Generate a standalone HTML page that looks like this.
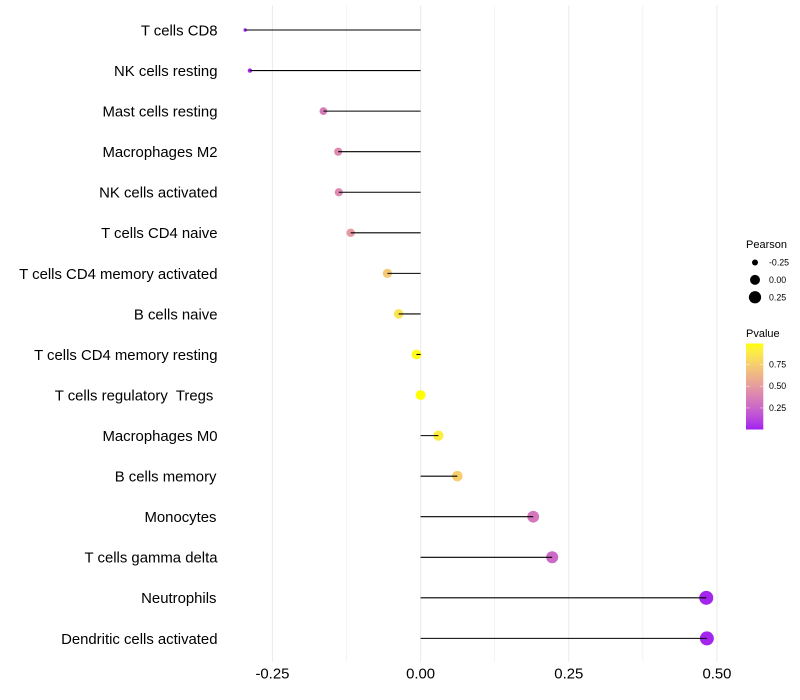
<!DOCTYPE html>
<html>
<head>
<meta charset="utf-8">
<title>Immune cell correlation lollipop chart</title>
<style>
  html, body { margin: 0; padding: 0; background: #fff; }
  svg { display: block; font-family: "Liberation Sans", sans-serif; }
  text { white-space: pre; }
</style>
</head>
<body>
<svg id="chart" width="800" height="700" viewBox="0 0 800 700" xmlns="http://www.w3.org/2000/svg">
  <defs>
    <linearGradient id="pvalue-gradient" x1="0" y1="1" x2="0" y2="0"></linearGradient>
  </defs>
  <rect x="0" y="0" width="800" height="700" fill="#ffffff"></rect>
  <g id="grid"></g>
  <g id="points"></g>
  <g id="stems-top"></g>
  <g id="y-labels"></g>
  <g id="x-labels"></g>
  <g id="size-legend">
    <text x="746" y="248" font-size="11" fill="#000">Pearson</text>
  </g>
  <g id="color-legend">
    <text x="746" y="337" font-size="11" fill="#000">Pvalue</text>
    <rect x="746" y="343.5" width="17.3" height="86" fill="url(#pvalue-gradient)"></rect>
  </g>
</svg>
<script>
const categories = ["T cells CD8", "NK cells resting", "Mast cells resting", "Macrophages M2", "NK cells activated", "T cells CD4 naive", "T cells CD4 memory activated", "B cells naive", "T cells CD4 memory resting", "T cells regulatory  Tregs ", "Macrophages M0", "B cells memory", "Monocytes", "T cells gamma delta", "Neutrophils", "Dendritic cells activated"];
const pearson = [-0.296, -0.288, -0.164, -0.139, -0.138, -0.118, -0.056, -0.037, -0.007, 0.000, 0.030, 0.062, 0.190, 0.222, 0.482, 0.483];
const pvalue = [0.02, 0.03, 0.35, 0.42, 0.42, 0.50, 0.72, 0.85, 0.97, 0.99, 0.90, 0.75, 0.33, 0.27, 0.02, 0.02];
const xMajorTicks = [-0.25, 0, 0.25, 0.5];
const xMajorLabels = ["-0.25", "0.00", "0.25", "0.50"];
const xMinorTicks = [-0.125, 0.125, 0.375];
const sizeLegendValues = [-0.25, 0, 0.25];
const sizeLegendLabels = ["-0.25", "0.00", "0.25"];
const colorLegendValues = [0.25, 0.5, 0.75];
const colorLegendLabels = ["0.25", "0.50", "0.75"];

const NS = "http://www.w3.org/2000/svg";
const xScale = v => 420.6 + v * 592.7;
const yScale = i => 30 + i * 40.56;
const pLow = 0.008, pHigh = 0.99;
const sizeScale = v => {
  const lo = Math.min(...pearson), hi = Math.max(...pearson);
  const t = Math.max(0, Math.min(1, (v - lo) / (hi - lo)));
  return 1.7 + 5.3 * Math.sqrt(t);
};
const legendY = p => 386.2 - (p - 0.5) * 87;
const shortEndLabels = new Set(["B cells memory", "Monocytes", "Neutrophils"]);

function hexToLab(h) {
  const c = [1, 3, 5].map(i => parseInt(h.substr(i, 2), 16) / 255)
    .map(u => u > 0.04045 ? Math.pow((u + 0.055) / 1.055, 2.4) : u / 12.92);
  const X = (0.4124 * c[0] + 0.3576 * c[1] + 0.1805 * c[2]) / 0.95047;
  const Y = 0.2126 * c[0] + 0.7152 * c[1] + 0.0722 * c[2];
  const Z = (0.0193 * c[0] + 0.1192 * c[1] + 0.9505 * c[2]) / 1.08883;
  const f = t => t > 0.008856 ? Math.cbrt(t) : 7.787 * t + 16 / 116;
  return [116 * f(Y) - 16, 500 * (f(X) - f(Y)), 200 * (f(Y) - f(Z))];
}
function labToRgb(l) {
  const fy = (l[0] + 16) / 116, fx = l[1] / 500 + fy, fz = fy - l[2] / 200;
  const g = t => t * t * t > 0.008856 ? t * t * t : (t - 16 / 116) / 7.787;
  const X = g(fx) * 0.95047, Y = g(fy), Z = g(fz) * 1.08883;
  const lin = [3.2406 * X - 1.5372 * Y - 0.4986 * Z, -0.9689 * X + 1.8758 * Y + 0.0415 * Z, 0.0557 * X - 0.2040 * Y + 1.0570 * Z];
  const out = lin.map(u => u > 0.0031308 ? 1.055 * Math.pow(u, 1 / 2.4) - 0.055 : 12.92 * u)
    .map(u => Math.round(Math.max(0, Math.min(1, u)) * 255));
  return "rgb(" + out.join(",") + ")";
}
const labLow = hexToLab("#A020F0"), labHigh = hexToLab("#FFFF00");
const colorScale = p => {
  const t = Math.max(0, Math.min(1, (p - pLow) / (pHigh - pLow)));
  return labToRgb(labLow.map((v, i) => v + (labHigh[i] - v) * t));
};

function make(tag, attrs, parent) {
  const el = document.createElementNS(NS, tag);
  Object.keys(attrs).forEach(k => el.setAttribute(k, attrs[k]));
  parent.appendChild(el);
  return el;
}

const grid = document.getElementById("grid");
xMinorTicks.forEach(v => {
  const el = make("line", { x1: xScale(v), x2: xScale(v), y1: 5.5, y2: 662, stroke: "#ebebeb", "stroke-width": 0.55 }, grid);
  
  
});
xMajorTicks.forEach(v => {
  const el = make("line", { x1: xScale(v), x2: xScale(v), y1: 5.5, y2: 662, stroke: "#ebebeb", "stroke-width": 1.07 }, grid);
  
  
});

const stems = document.getElementById("stems-top");
const points = document.getElementById("points");
const yLabels = document.getElementById("y-labels");
categories.forEach((name, i) => {
  const y = yScale(i);
  const dot = make("circle", { cx: xScale(pearson[i]), cy: y, r: sizeScale(pearson[i]), fill: colorScale(pvalue[i]) }, points);
  
  
  const stem = make("line", { x1: xScale(0), x2: xScale(pearson[i]), y1: y, y2: y, stroke: "#000", "stroke-width": 1.07 }, stems);
  
  
  const labelX = shortEndLabels.has(name) ? 216.5 : 217.5;
  const label = make("text", { x: labelX, y: y + 5.4, "text-anchor": "end", "font-size": 14.9, fill: "#000" }, yLabels);
  
  
  label.textContent = name;
});

const xLabels = document.getElementById("x-labels");
xMajorTicks.forEach((v, i) => {
  const label = make("text", { x: xScale(v), y: 678.3, "text-anchor": "middle", "font-size": 14.9, fill: "#000" }, xLabels);
  
  
  label.textContent = xMajorLabels[i];
});

const sizeLegend = document.getElementById("size-legend");
sizeLegendValues.forEach((v, i) => {
  const y = 262.5 + i * 17.4;
  const key = make("circle", { cx: 755, cy: y, r: sizeScale(v), fill: "#000" }, sizeLegend);
  
  
  const label = make("text", { x: 769, y: y + 3, "font-size": 8.8, fill: "#000" }, sizeLegend);
  
  
  label.textContent = sizeLegendLabels[i];
});

const gradient = document.getElementById("pvalue-gradient");
for (let k = 0; k <= 20; k++) {
  const stop = make("stop", { offset: (k / 20), "stop-color": colorScale(pLow + (pHigh - pLow) * k / 20) }, gradient);
}
const colorLegend = document.getElementById("color-legend");
colorLegendValues.forEach((p, i) => {
  const y = legendY(p);
  const left = make("line", { x1: 746, x2: 749.5, y1: y, y2: y, stroke: "#fff", "stroke-width": 0.55, "stroke-opacity": 0.8 }, colorLegend);
  
  
  const right = make("line", { x1: 759.8, x2: 763.3, y1: y, y2: y, stroke: "#fff", "stroke-width": 0.55, "stroke-opacity": 0.8 }, colorLegend);
  
  
  const label = make("text", { x: 769, y: y + 3, "font-size": 8.8, fill: "#000" }, colorLegend);
  
  
  label.textContent = colorLegendLabels[i];
});
</script>
</body>
</html>
